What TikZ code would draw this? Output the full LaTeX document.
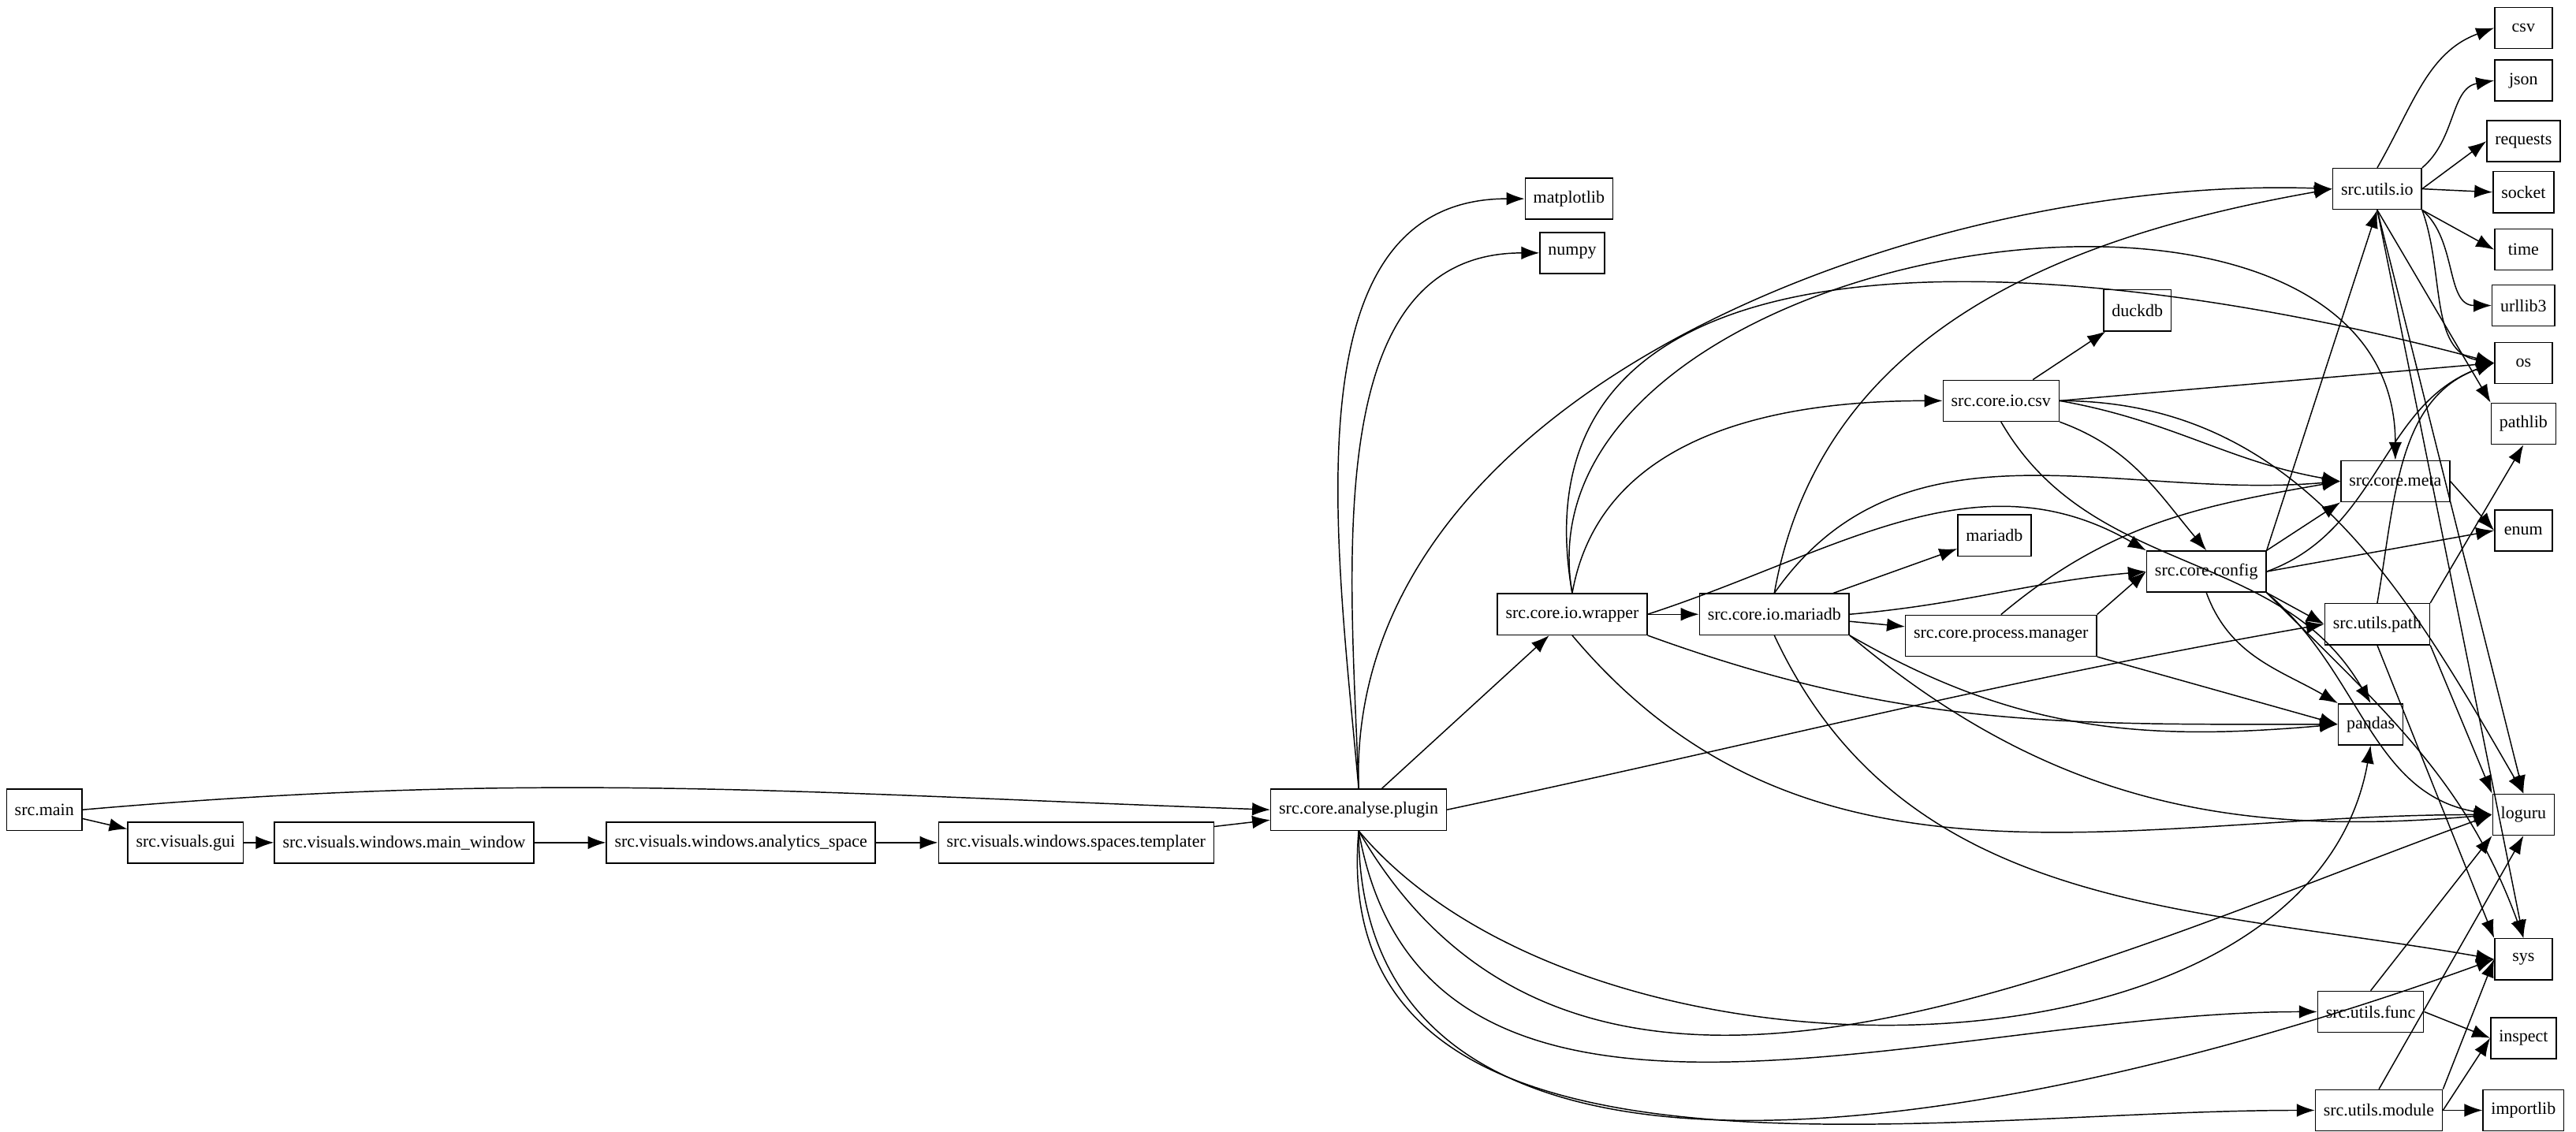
\documentclass[tikz,border=0pt]{standalone}
\usepackage{fontspec}
\setmainfont{Liberation Serif}
\usetikzlibrary{positioning}
\usetikzlibrary{arrows.meta}
\begin{document}
\begin{tikzpicture}[
    x=0.02cm, y=-0.02cm,
    >={Latex[length=2.2mm,width=1.6mm]},
    % Define the style for the nodes
    module/.style={rectangle, draw=black, fill=white, minimum height=0.5cm, minimum width=0.7cm,
        inner xsep=0.1cm, font=\fontsize{6}{7}\selectfont},
    dep/.style={->, thin}
]
\useasboundingbox (0,0) rectangle (1568,689);

% Visual chain
\node[module] (main) at (27,493) {src.main};
\node[module] (gui) at (113,513) {src.visuals.gui};
\node[module] (mainwin) at (246,513) {src.visuals.windows.main\_window};
\node[module] (analytics) at (451,513) {src.visuals.windows.analytics\_space};
\node[module] (templater) at (655,513) {src.visuals.windows.spaces.templater};
\node[module] (plugin) at (827,493) {src.core.analyse.plugin};

% Core modules
\node[module] (wrapper) at (957,374) {src.core.io.wrapper};
\node[module] (mariadb) at (1080,374) {src.core.io.mariadb};
\node[module] (procman) at (1218,387) {src.core.process.manager};
\node[module] (iocsv) at (1218,244) {src.core.io.csv};
\node[module] (config) at (1343,348) {src.core.config};
\node[module] (meta) at (1458,293) {src.core.meta};
\node[module] (utilsio) at (1447,115) {src.utils.io};
\node[module] (utilspath) at (1447,380) {src.utils.path};
\node[module] (utilsfunc) at (1443,616) {src.utils.func};
\node[module] (utilsmodule) at (1448,676) {src.utils.module};

% Libraries
\node[module] (libmariadb) at (1214,326) {mariadb};
\node[module] (duckdb) at (1301,189) {duckdb};
\node[module] (matplotlib) at (955,121) {matplotlib};
\node[module] (numpy) at (957,154) {numpy};
\node[module] (pandas) at (1443,441) {pandas};
\node[module] (csv) at (1536,17) {csv};
\node[module] (json) at (1536,49) {json};
\node[module] (requests) at (1536,86) {requests};
\node[module] (socket) at (1536,117) {socket};
\node[module] (time) at (1536,152) {time};
\node[module] (urllib3) at (1536,186) {urllib3};
\node[module] (os) at (1536,221) {os};
\node[module] (pathlib) at (1536,258) {pathlib};
\node[module] (enum) at (1536,323) {enum};
\node[module] (loguru) at (1536,496) {loguru};
\node[module] (sys) at (1536,584) {sys};
\node[module] (inspect) at (1536,632) {inspect};
\node[module] (importlib) at (1536,676) {importlib};

% Visual chain edges
\draw[dep] (main) -- (gui);
\draw[dep] (main.east) to[out=5,in=178] (plugin.west);
\draw[dep] (gui) -- (mainwin);
\draw[dep] (mainwin) -- (analytics);
\draw[dep] (analytics) -- (templater);
\draw[dep] (templater) -- (plugin);

% Plugin edges
\draw[dep] (plugin.north) to[out=92,in=178,looseness=0.9] (utilsio.west);
\draw[dep] (plugin.north) to[out=95,in=180] (matplotlib.west);
\draw[dep] (plugin.north) to[out=92,in=180] (numpy.west);
\draw[dep] (plugin) -- (wrapper);
\draw[dep] (plugin.east) to[out=12,in=190] (utilspath.west);
\draw[dep] (plugin.south) to[out=-50,in=-100,looseness=0.9] (pandas.south);
\draw[dep] (plugin.south) to[out=-60,in=200] (loguru.west);
\draw[dep] (plugin.south) to[out=-80,in=180] (utilsfunc.west);
\draw[dep] (plugin.south) to[out=-90,in=200] (sys.west);
\draw[dep] (plugin.south) to[out=-95,in=180] (utilsmodule.west);

% Wrapper edges
\draw[dep] (wrapper) -- (mariadb);
\draw[dep] (wrapper.north) to[out=80,in=180] (iocsv.west);
\draw[dep] (wrapper.north) to[out=100,in=90,looseness=1.1] (meta.north);
\draw[dep] (wrapper.north) to[out=100,in=165,looseness=1.1] (os.west);
\draw[dep] (wrapper.east) to[out=18,in=150] (config.north west);
\draw[dep] (wrapper.south east) to[out=-20,in=180] (pandas.west);
\draw[dep] (wrapper.south) to[out=-50,in=180] (loguru.west);

% Mariadb edges
\draw[dep] (mariadb.north) to[out=80,in=190] (utilsio.west);
\draw[dep] (mariadb.north) to[out=55,in=185] (meta.west);
\draw[dep] (mariadb) -- (libmariadb);
\draw[dep] (mariadb.east) to[out=5,in=185] (config.west);
\draw[dep] (mariadb) -- (procman);
\draw[dep] (mariadb.south east) to[out=-30,in=185] (pandas.west);
\draw[dep] (mariadb.south east) to[out=-40,in=185] (loguru.west);
\draw[dep] (mariadb.south) to[out=-65,in=170] (sys.west);

% Csv edges
\draw[dep] (iocsv) -- (duckdb);
\draw[dep] (iocsv.east) to[out=5,in=185] (os.west);
\draw[dep] (iocsv.east) to[out=-10,in=170] (meta.west);
\draw[dep] (iocsv.south east) to[out=-20,in=130] (config.north);
\draw[dep] (iocsv.south) to[out=-60,in=120] (pandas.north);
\draw[dep] (iocsv.east) to[out=0,in=120] (loguru.north);

% Process manager edges
\draw[dep] (procman.north east) -- (config.west);
\draw[dep] (procman.north) to[out=40,in=190] (meta.west);
\draw[dep] (procman.south east) -- (pandas.west);

% Config edges
\draw[dep] (config.north east) -- (utilsio.south);
\draw[dep] (config.north east) -- (meta.south west);
\draw[dep] (config.east) to[out=20,in=200] (os.west);
\draw[dep] (config.east) -- (enum.west);
\draw[dep] (config.south east) -- (utilspath.west);
\draw[dep] (config.south) to[out=-70,in=150] (pandas.north west);
\draw[dep] (config.south east) to[out=-40,in=170] (loguru.west);
\draw[dep] (config.south east) to[out=-45,in=110] (sys.north);

% Meta edges
\draw[dep] (meta.east) -- (enum.west);

% Utils io edges
\draw[dep] (utilsio.north) to[out=60,in=200] (csv.west);
\draw[dep] (utilsio.north east) to[out=40,in=190] (json.west);
\draw[dep] (utilsio.east) -- (requests.west);
\draw[dep] (utilsio.east) -- (socket.west);
\draw[dep] (utilsio.south east) -- (time.west);
\draw[dep] (utilsio.south east) to[out=-40,in=180] (urllib3.west);
\draw[dep] (utilsio.south east) to[out=-70,in=170] (os.west);
\draw[dep] (utilsio.south) -- (pathlib.north west);
\draw[dep] (utilsio.south) -- (loguru.north);
\draw[dep] (utilsio.south) -- (sys.north);

% Utils path edges
\draw[dep] (utilspath.north) to[out=80,in=200] (os.west);
\draw[dep] (utilspath.north east) -- (pathlib.south);
\draw[dep] (utilspath.south east) -- (loguru.north west);
\draw[dep] (utilspath.south) -- (sys.north west);

% Utils func and module edges
\draw[dep] (utilsfunc.north) -- (loguru.south west);
\draw[dep] (utilsfunc.east) -- (inspect.west);
\draw[dep] (utilsmodule.north east) -- (sys.west);
\draw[dep] (utilsmodule.north) -- (loguru.south);
\draw[dep] (utilsmodule.east) -- (inspect.west);
\draw[dep] (utilsmodule) -- (importlib);

\end{tikzpicture}
\end{document}
